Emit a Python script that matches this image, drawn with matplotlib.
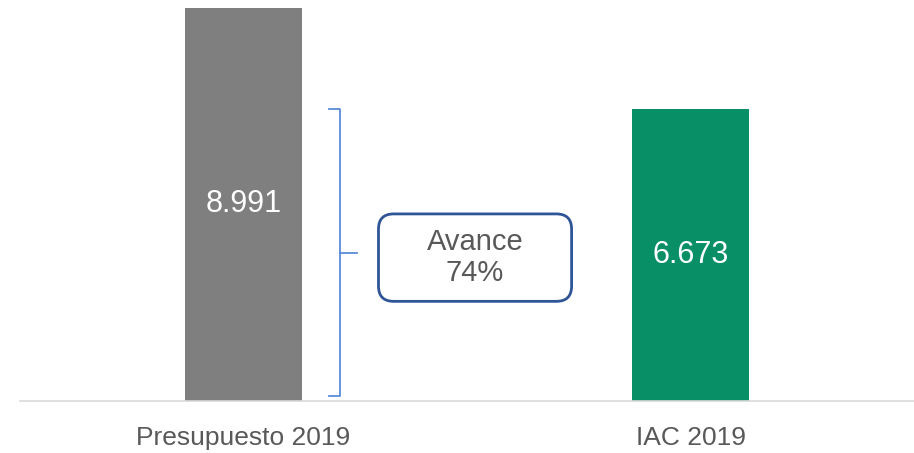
import matplotlib.pyplot as plt
from matplotlib.patches import FancyBboxPatch

categories = ["Presupuesto 2019", "IAC 2019"]
values = [8.991, 6.673]
value_labels = ["8.991", "6.673"]
bar_colors = ["#7f7f7f", "#098f66"]
avance_text = "Avance\n74%"

W, H = 914, 453
fig = plt.figure(figsize=(W / 100, H / 100), dpi=100)
plt.rcParams["font.family"] = ["Liberation Sans", "DejaVu Sans"]

# axes placed in pixel terms: baseline at y=401, top of tallest bar at y=8
ax = fig.add_axes([20 / W, (H - 401) / H, (W - 20) / W, 393 / H])
x = list(range(len(categories)))
ax.bar(x, values, width=0.26, color=bar_colors, zorder=2)
ax.set_xlim(-0.5, 1.5)
ax.set_ylim(0, max(values))

for xi, v, lab in zip(x, values, value_labels):
    ax.text(xi, v / 2, lab, ha="center", va="center", color="white", fontsize=22)

for s in ["top", "right", "left"]:
    ax.spines[s].set_visible(False)
ax.spines["bottom"].set_color("#d9d9d9")
ax.spines["bottom"].set_linewidth(1.2)
ax.set_yticks([])
ax.set_xticks(x)
ax.set_xticklabels(categories, fontsize=19, color="#595959")
ax.tick_params(axis="x", length=0, pad=18)

# bracket between the two bar heights
bx, hook, tip = 0.217, 0.192, 0.253
top, bot = values[1], 0.12
mid = (top + bot) / 2
br = "#5b8bd8"
ax.plot([hook, bx, bx, hook], [top, top, bot, bot], color=br, lw=1.3,
        solid_joinstyle="round", clip_on=False)
ax.plot([bx, tip], [mid, mid], color=br, lw=1.3)

# rounded box with the progress text
cx, cy = 0.518, 3.28
bw, bh = 0.432, 2.0
aspect = (max(values) / 393) / (2 / 894)
box = FancyBboxPatch((cx - bw / 2, cy - bh / 2), bw, bh,
                     boxstyle="round,pad=0,rounding_size=0.034",
                     mutation_aspect=aspect,
                     fc="white", ec="#2f5597", lw=2, zorder=3)
ax.add_patch(box)
ax.text(cx, cy, avance_text, ha="center", va="center", fontsize=21,
        color="#595959", linespacing=1.15, zorder=4)

fig.savefig("out.png", dpi=100)
